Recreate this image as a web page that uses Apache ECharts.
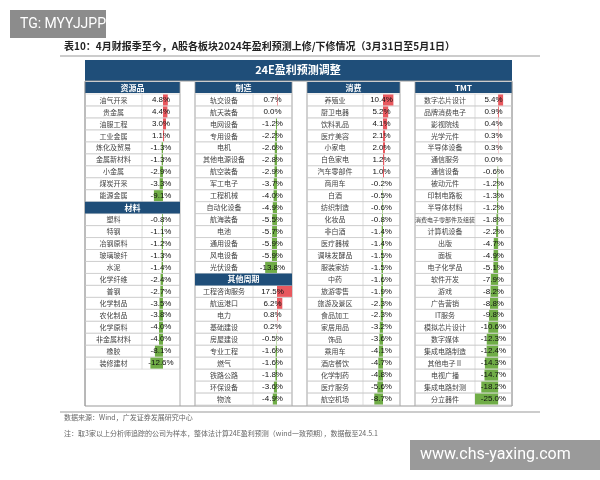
<!DOCTYPE html>
<html>
<head>
<meta charset="utf-8">
<script src="https://cdn.jsdelivr.net/npm/echarts@6/dist/echarts.min.js"></script>
<style>html,body{margin:0;padding:0;background:#fff}#m{width:600px;height:480px}</style>
</head>
<body>
<div id="m"></div>
<script>
// 资源品 / 材料
var resNames = ['油气开采','贵金属','油服工程','工业金属','炼化及贸易','金属新材料','小金属','煤炭开采','能源金属'];
var resVals = [4.8, 4.4, 3.0, 1.1, -1.3, -1.3, -2.9, -3.3, -9.1];
var matNames = ['塑料','特钢','冶钢原料','玻璃玻纤','水泥','化学纤维','普钢','化学制品','农化制品','化学原料','非金属材料','橡胶','装修建材'];
var matVals = [-0.8, -1.1, -1.2, -1.3, -1.4, -2.4, -2.7, -3.5, -3.8, -4.0, -4.0, -8.1, -12.6];
// 制造 / 其他周期
var mfgNames = ['轨交设备','航天装备','电网设备','专用设备','电机','其他电源设备','航空装备','军工电子','工程机械','自动化设备','航海装备','电池','通用设备','风电设备','光伏设备'];
var mfgVals = [0.7, 0.0, -1.2, -2.2, -2.6, -2.8, -2.9, -3.7, -4.0, -4.9, -5.5, -5.7, -5.9, -5.9, -13.8];
var cycNames = ['工程咨询服务','航运港口','电力','基础建设','房屋建设','专业工程','燃气','铁路公路','环保设备','物流'];
var cycVals = [17.5, 6.2, 0.8, 0.2, -0.5, -1.6, -1.6, -1.8, -3.6, -4.9];
// 消费
var conNames = ['养殖业','厨卫电器','饮料乳品','医疗美容','小家电','白色家电','汽车零部件','商用车','白酒','纺织制造','化妆品','非白酒','医疗器械','调味发酵品','服装家纺','中药','旅游零售','旅游及景区','食品加工','家居用品','饰品','乘用车','酒店餐饮','化学制药','医疗服务','航空机场'];
var conVals = [10.4, 5.2, 4.1, 2.1, 2.0, 1.2, 1.0, -0.2, -0.5, -0.6, -0.8, -1.4, -1.4, -1.5, -1.5, -1.6, -1.9, -2.3, -2.3, -3.2, -3.6, -4.1, -4.7, -4.8, -5.6, -8.7];
// TMT
var tmtNames = ['数字芯片设计','品牌消费电子','影视院线','光学元件','半导体设备','通信服务','通信设备','被动元件','印制电路板','半导体材料','消费电子零部件及组装','计算机设备','出版','面板','电子化学品','软件开发','游戏','广告营销','IT服务','模拟芯片设计','数字媒体','集成电路制造','其他电子Ⅱ','电视广播','集成电路封测','分立器件'];
var tmtVals = [5.4, 0.9, 0.4, 0.3, 0.3, 0.0, -0.6, -1.2, -1.3, -1.2, -1.8, -2.2, -4.7, -4.9, -5.1, -7.9, -8.2, -8.8, -9.8, -10.6, -12.3, -12.4, -14.3, -14.7, -18.2, -25.0];

var ROWS = 26, TOP = 94, RH = 311 / 26;
var NAVY = '#1f4e79', LINE = '#c8c8c8';
var FONT = 'Noto Sans CJK SC';

// 每列: 表头, 各小节(标题, 名称, 数值)
var groups = [
  {head:'资源品', x0:85, xs:142, x1:180, min:-21, max:17, sections:[[null,resNames,resVals],['材料',matNames,matVals]]},
  {head:'制造', x0:195, xs:253, x1:292, min:-28, max:17.5, sections:[[null,mfgNames,mfgVals],['其他周期',cycNames,cycVals]]},
  {head:'消费', x0:307, xs:363, x1:400, min:-20, max:17, sections:[[null,conNames,conVals]]},
  {head:'TMT', x0:415, xs:475, x1:512, min:-25, max:15, sections:[[null,tmtNames,tmtVals]]}
];

var graphic = [], grids = [], xAxes = [], yAxes = [], series = [];

graphic.push({type:'rect', shape:{x:10,y:10,width:96,height:28}, style:{fill:'#8c8c8c'}, z:200});
graphic.push({type:'text', x:20, y:17, style:{text:'TG: MYYJJPP', fill:'#fff', font:'14px Roboto'}, z:201});
graphic.push({type:'text', x:64, y:41, style:{text:'表10：4月财报季至今，A股各板块2024年盈利预测上修/下修情况（3月31日至5月1日）', fill:'#222', font:'bold 10px "'+FONT+'"'}});
graphic.push({type:'line', shape:{x1:60,y1:56,x2:540,y2:56}, style:{stroke:'#999',lineWidth:1}});
graphic.push({type:'rect', shape:{x:85,y:60,width:427,height:21}, style:{fill:NAVY}});
graphic.push({type:'text', x:298, y:70, style:{text:'24E盈利预测调整', fill:'#fff', font:'bold 11px "'+FONT+'"', align:'center', verticalAlign:'middle'}});
graphic.push({type:'rect', shape:{x:85,y:81,width:427,height:325}, style:{fill:'none',stroke:'#999',lineWidth:1}});
graphic.push({type:'line', shape:{x1:60,y1:412,x2:540,y2:412}, style:{stroke:'#999',lineWidth:1}});
graphic.push({type:'text', x:64, y:414, style:{text:'数据来源：Wind，广发证券发展研究中心', fill:'#666', font:'7px "'+FONT+'"'}});
graphic.push({type:'text', x:64, y:430, style:{text:'注：取3家以上分析师追踪的公司为样本，整体法计算24E盈利预测（wind一致预期），数据截至24.5.1', fill:'#666', font:'7px "'+FONT+'"'}});
graphic.push({type:'rect', shape:{x:410,y:440,width:190,height:30}, style:{fill:'#9a9a9a'}, z:200});
graphic.push({type:'text', x:420, y:447, style:{text:'www.chs-yaxing.com', fill:'#fff', font:'16px Roboto'}, z:201});

groups.forEach(function(g, gi){
  var data = [], row = 0;
  graphic.push({type:'rect', shape:{x:g.x0,y:82,width:g.x1-g.x0,height:11}, style:{fill:NAVY}});
  graphic.push({type:'text', x:(g.x0+g.x1)/2, y:88, style:{text:g.head, fill:'#fff', font:'bold 8px "'+FONT+'"', align:'center', verticalAlign:'middle'}});
  graphic.push({type:'line', shape:{x1:g.x0,y1:82,x2:g.x0,y2:406}, style:{stroke:'#999',lineWidth:0.8}});
  graphic.push({type:'line', shape:{x1:g.x1,y1:82,x2:g.x1,y2:406}, style:{stroke:'#999',lineWidth:0.8}});
  g.sections.forEach(function(sec){
    if (sec[0]) {
      var y = TOP + row*RH;
      graphic.push({type:'rect', shape:{x:g.x0,y:y,width:g.x1-g.x0,height:RH}, style:{fill:NAVY}, z:50});
      graphic.push({type:'text', x:(g.x0+g.x1)/2, y:y+RH/2, style:{text:sec[0], fill:'#fff', font:'bold 8px "'+FONT+'"', align:'center', verticalAlign:'middle'}, z:51});
      data.push(null); row++;
    }
    sec[1].forEach(function(n, i){
      var y = TOP + row*RH, v = sec[2][i];
      graphic.push({type:'rect', shape:{x:g.x0,y:y,width:g.x1-g.x0,height:RH}, style:{fill:'none',stroke:LINE,lineWidth:0.6}});
      graphic.push({type:'line', shape:{x1:g.xs,y1:y,x2:g.xs,y2:y+RH}, style:{stroke:LINE,lineWidth:0.6}});
      graphic.push({type:'text', x:(g.x0+g.xs)/2, y:y+RH/2, style:{text:n, fill:'#444', font:(n.length>8?'6px':'7px')+' "'+FONT+'"', align:'center', verticalAlign:'middle'}, z:60});
      graphic.push({type:'text', x:(g.xs+g.x1)/2, y:y+RH/2, style:{text:v.toFixed(1)+'%', fill:'#111', font:'8px Arial', align:'center', verticalAlign:'middle'}, z:60});
      data.push({value:v, itemStyle:{color: v >= 0 ? '#e8585e' : '#70ad47'}});
      row++;
    });
  });
  while (data.length < ROWS) data.push(null);
  grids.push({left:g.xs, top:TOP, width:g.x1-g.xs, height:ROWS*RH});
  xAxes.push({type:'value', gridIndex:gi, min:g.min, max:g.max, show:false});
  yAxes.push({type:'category', gridIndex:gi, inverse:true, data:data.map(function(d,i){return i;}), show:false});
  series.push({type:'bar', xAxisIndex:gi, yAxisIndex:gi, data:data, barWidth:'92%', silent:true, animation:false});
});

var myChart = echarts.init(document.getElementById('m'));
myChart.setOption({
  animation:false,
  grid:grids, xAxis:xAxes, yAxis:yAxes, series:series, graphic:graphic
});
</script>
</body>
</html>
